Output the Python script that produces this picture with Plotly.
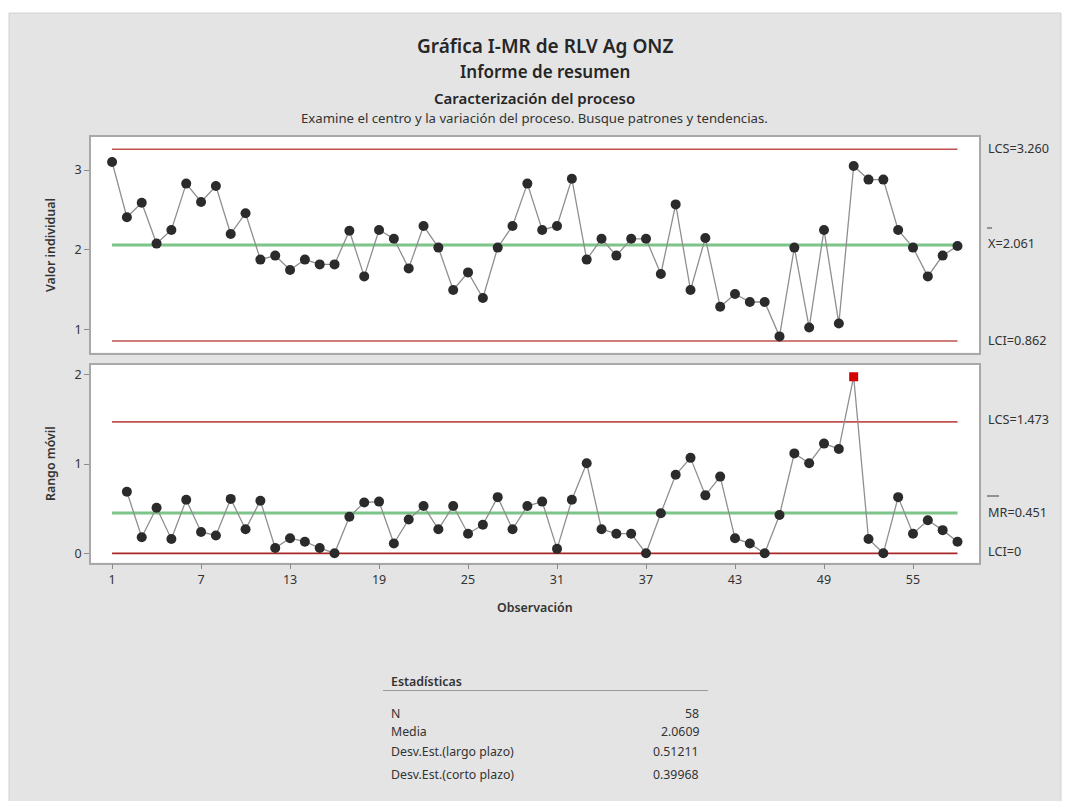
import plotly.graph_objects as go

W, H = 1069, 801

# ---------------- data ----------------
observations = list(range(1, 59))
individual_values = [3.10, 2.41, 2.59, 2.08, 2.25, 2.83, 2.60, 2.80, 2.20, 2.46,
                     1.88, 1.93, 1.75, 1.88, 1.82, 1.82, 2.24, 1.67, 2.25, 2.14,
                     1.77, 2.30, 2.03, 1.50, 1.72, 1.40, 2.03, 2.30, 2.83, 2.25,
                     2.30, 2.89, 1.88, 2.14, 1.93, 2.14, 2.14, 1.70, 2.57, 1.50,
                     2.15, 1.29, 1.45, 1.35, 1.35, 0.92, 2.03, 1.03, 2.25, 1.08,
                     3.05, 2.88, 2.88, 2.25, 2.03, 1.67, 1.93, 2.05]
mr_observations = list(range(2, 59))
moving_range = [0.69, 0.18, 0.51, 0.16, 0.60, 0.24, 0.20, 0.61, 0.27, 0.59,
                0.06, 0.17, 0.13, 0.06, 0.00, 0.41, 0.57, 0.58, 0.11, 0.38,
                0.53, 0.27, 0.53, 0.22, 0.32, 0.63, 0.27, 0.53, 0.58, 0.05,
                0.60, 1.01, 0.27, 0.22, 0.22, 0.00, 0.45, 0.88, 1.07, 0.65,
                0.86, 0.17, 0.11, 0.00, 0.43, 1.12, 1.01, 1.23, 1.17, 1.98,
                0.16, 0.00, 0.63, 0.22, 0.37, 0.26, 0.13]

i_ucl, i_center, i_lcl = 3.260, 2.061, 0.862
mr_ucl, mr_center, mr_lcl = 1.473, 0.451, 0.0

x_tick_values = [1, 7, 13, 19, 25, 31, 37, 43, 49, 55]
i_tick_values = [1, 2, 3]
mr_tick_values = [0, 1, 2]

stat_labels = ["N", "Media", "Desv.Est.(largo plazo)", "Desv.Est.(corto plazo)"]
stat_values = ["58", "2.0609", "0.51211", "0.39968"]

# ---------------- helpers ----------------
FONT = "Noto Sans, Open Sans, sans-serif"
TXT = "#333333"


def px(x):
    return x / W


def py(y):
    return 1 - y / H


LIMIT_RED = "#c0504d"
CENTER_GREEN = "#7cc487"
POINT = "#2b2b2b"
CONNECT = "#8f8f8f"

fig = go.Figure()

x0, x1 = observations[0], observations[-1]

# Individual chart
for val, col, w in [(i_ucl, LIMIT_RED, 1.6), (i_lcl, LIMIT_RED, 1.6), (i_center, CENTER_GREEN, 3)]:
    fig.add_trace(go.Scatter(x=[x0, x1], y=[val, val], mode="lines",
                             line=dict(color=col, width=w), xaxis="x", yaxis="y",
                             hoverinfo="skip", showlegend=False))
fig.add_trace(go.Scatter(x=observations, y=individual_values, mode="lines+markers",
                         line=dict(color=CONNECT, width=1.3),
                         marker=dict(color=POINT, size=10),
                         xaxis="x", yaxis="y", showlegend=False))

# Moving range chart
for val, col, w in [(mr_ucl, LIMIT_RED, 1.6), (mr_lcl, "#a82828", 1.6), (mr_center, CENTER_GREEN, 3)]:
    fig.add_trace(go.Scatter(x=[x0, x1], y=[val, val], mode="lines",
                             line=dict(color=col, width=w), xaxis="x2", yaxis="y2",
                             hoverinfo="skip", showlegend=False))
fig.add_trace(go.Scatter(x=mr_observations, y=moving_range, mode="lines",
                         line=dict(color=CONNECT, width=1.3),
                         xaxis="x2", yaxis="y2", showlegend=False))
ok_x = [o for o, v in zip(mr_observations, moving_range) if v <= mr_ucl]
ok_y = [v for v in moving_range if v <= mr_ucl]
bad_x = [o for o, v in zip(mr_observations, moving_range) if v > mr_ucl]
bad_y = [v for v in moving_range if v > mr_ucl]
fig.add_trace(go.Scatter(x=ok_x, y=ok_y, mode="markers",
                         marker=dict(color=POINT, size=10),
                         xaxis="x2", yaxis="y2", showlegend=False))
fig.add_trace(go.Scatter(x=bad_x, y=bad_y, mode="markers",
                         marker=dict(color="#d40000", size=9, symbol="square"),
                         xaxis="x2", yaxis="y2", showlegend=False))

FRAME = "#a8a8a8"
common_axis = dict(showgrid=False, zeroline=False, showline=True, mirror=True,
                   linecolor=FRAME, linewidth=1.5, automargin=False,
                   tickfont=dict(family=FONT, size=12.5, color=TXT),
                   tickcolor="#8a8a8a", ticklen=5, tickwidth=1)

x_range = [-0.42, 59.45]

fig.update_layout(
    width=W, height=H,
    margin=dict(l=0, r=0, t=0, b=0),
    paper_bgcolor="#e4e4e4",
    plot_bgcolor="white",
    template="none",
    showlegend=False,
    font=dict(family=FONT, color=TXT),
    xaxis=dict(domain=[px(91), px(979)], range=x_range, anchor="y",
               showticklabels=False, ticks="", **common_axis),
    yaxis=dict(domain=[py(352.7), py(137)], range=[0.716, 3.4125], anchor="x",
               tickvals=i_tick_values, ticks="outside", **common_axis),
    xaxis2=dict(domain=[px(91), px(979)], range=x_range, anchor="y2",
                tickvals=x_tick_values, ticks="outside", **common_axis),
    yaxis2=dict(domain=[py(562.7), py(365)], range=[-0.105, 2.111], anchor="x2",
                tickvals=mr_tick_values, ticks="outside", **common_axis),
)

shapes = []
# white outer border
for (a, b, c, d) in [(0, 0, W, 13), (0, 0, 9, H), (1061, 0, W, H)]:
    shapes.append(dict(type="rect", xref="paper", yref="paper",
                       x0=px(a), x1=px(c), y0=py(d), y1=py(b),
                       fillcolor="white", line=dict(width=0), layer="below"))
shapes.append(dict(type="rect", xref="paper", yref="paper",
                   x0=px(9), x1=px(1061), y0=py(H + 2), y1=py(13),
                   fillcolor="rgba(0,0,0,0)", line=dict(color="#d2d2d2", width=1)))
# overbars for X and MR
shapes.append(dict(type="line", xref="paper", yref="paper",
                   x0=px(987), x1=px(992), y0=py(228), y1=py(228),
                   line=dict(color="#404040", width=1)))
shapes.append(dict(type="line", xref="paper", yref="paper",
                   x0=px(987), x1=px(999), y0=py(496), y1=py(496),
                   line=dict(color="#404040", width=1)))
# stats table underline
shapes.append(dict(type="line", xref="paper", yref="paper",
                   x0=px(383), x1=px(708), y0=py(690.5), y1=py(690.5),
                   line=dict(color="#9a9a9a", width=1)))
fig.update_layout(shapes=shapes)

ann = []


def text(x, y, s, size=12, xanchor="left", weight=None, color=TXT, angle=0):
    f = dict(family=FONT, size=size, color=color)
    if weight:
        f["weight"] = weight
    ann.append(dict(x=px(x), y=py(y), xref="paper", yref="paper", text=s,
                    showarrow=False, xanchor=xanchor, yanchor="middle",
                    font=f, textangle=angle))


text(545, 46, "Gráfica I-MR de RLV Ag ONZ", size=19, xanchor="center", weight=600, color="#262626")
text(545, 71, "Informe de resumen", size=17, xanchor="center", weight=600, color="#262626")
text(534, 98, "Caracterización del proceso", size=15, xanchor="center", weight=600, color="#262626")
text(534, 118, "Examine el centro y la variación del proceso. Busque patrones y tendencias.",
     size=13.2, xanchor="center")

# right-side limit labels
text(986, 148, f"LCS={i_ucl:.3f}", size=12.7)
text(986, 243, f"X={i_center:.3f}", size=12.7)
text(986, 340, f"LCI={i_lcl:.3f}", size=12.7)
text(986, 419, f"LCS={mr_ucl:.3f}", size=12.7)
text(986, 512, f"MR={mr_center:.3f}", size=12.7)
text(986, 551, f"LCI={mr_lcl:g}", size=12.7)

# axis titles
text(50, 245, "Valor individual", size=12.4, xanchor="center", weight=600, angle=-90)
text(50, 464, "Rango móvil", size=12.4, xanchor="center", weight=600, angle=-90)
text(535, 607, "Observación", size=12.4, xanchor="center", weight=600)

# statistics table
text(389, 681, "Estadísticas", size=12.4, weight=600)
for lab, val, yy in zip(stat_labels, stat_values, [713, 731, 751, 774]):
    text(389, yy, lab, size=12.3)
    text(701, yy, val, size=12.3, xanchor="right")

fig.update_layout(annotations=ann)

fig.write_html("out.html", config={"displayModeBar": False},
               post_script="document.body.style.margin='0';document.body.style.overflow='hidden';")
